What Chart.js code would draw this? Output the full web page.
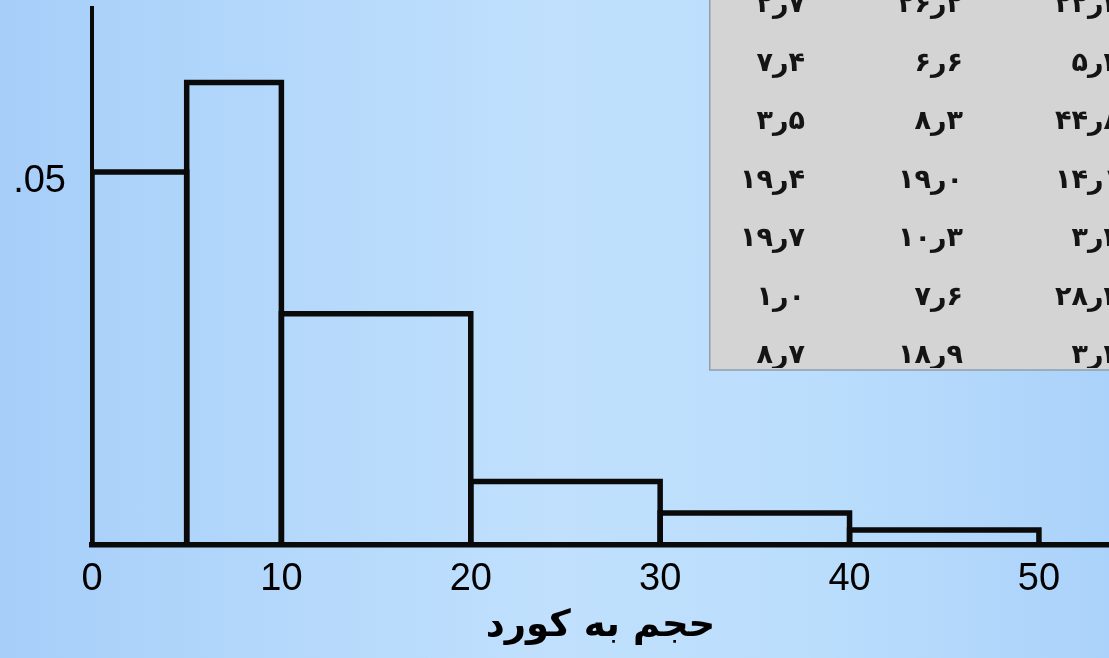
<!DOCTYPE html>
<html>
<head>
<meta charset="utf-8">
<script src="https://cdn.jsdelivr.net/npm/chart.js@4.4.1/dist/chart.umd.min.js"></script>
<style>
  html, body { margin: 0; padding: 0; }
  body {
    width: 1109px; height: 658px; overflow: hidden;
    background: linear-gradient(to right, #a6cef9 0%, #b4d8fb 25%, #c0e0fd 50%, #bbdefc 72%, #abd2fa 100%);
  }
  #wrap { position: relative; width: 1109px; height: 658px; }
</style>
</head>
<body>
<div id="wrap"><canvas id="chart" width="1109" height="658"></canvas></div>
<script>
// Class edges (cords) and density of each class
const binEdges = [0, 5, 10, 20, 30, 40, 50];
const densities = [0.05, 0.062, 0.031, 0.0085, 0.0043, 0.002];
const xTickValues = [0, 10, 20, 30, 40, 50];
const yTickValues = [0.05];
const yTickLabels = ['.05'];
const xTitle = 'حجم به کورد';

// Inset table (Persian numerals, "ر" as decimal mark)
const tableCol1 = ['۲ر۷', '۷ر۴', '۳ر۵', '۱۹ر۴', '۱۹ر۷', '۱ر۰', '۸ر۷'];
const tableCol2 = ['۲۶ر۲', '۶ر۶', '۸ر۳', '۱۹ر۰', '۱۰ر۳', '۷ر۶', '۱۸ر۹'];
const tableCol3 = ['۲۲ر۲', '۵ر۲', '۴۴ر۸', '۱۴ر۱', '۳ر۲', '۲۸ر۲', '۳ر۲'];

// One closed outline per class: left edge up, across the top, right edge down
const datasets = densities.map((d, i) => ({
  data: [
    { x: binEdges[i], y: 0 },
    { x: binEdges[i], y: d },
    { x: binEdges[i + 1], y: d },
    { x: binEdges[i + 1], y: 0 }
  ],
  showLine: true,
  borderColor: '#0a0a0a',
  borderWidth: 5.5,
  borderJoinStyle: 'miter',
  pointRadius: 0,
  tension: 0,
  fill: false
}));

const insetTable = {
  id: 'insetTable',
  afterDraw(chart) {
    const ctx = chart.ctx;
    const box = { x: 709, y: 0, w: 400, h: 370 };
    ctx.save();
    ctx.fillStyle = '#d4d4d4';
    ctx.fillRect(box.x, box.y, box.w, box.h);
    ctx.strokeStyle = '#8d9eaf';
    ctx.lineWidth = 1.5;
    ctx.beginPath();
    ctx.moveTo(box.x + 0.75, box.y);
    ctx.lineTo(box.x + 0.75, box.y + box.h);
    ctx.lineTo(box.x + box.w, box.y + box.h);
    ctx.stroke();

    ctx.beginPath();
    ctx.rect(box.x + 2, box.y, box.w, box.h - 2);
    ctx.clip();

    ctx.fillStyle = '#141414';
    ctx.font = 'bold 27px "DejaVu Sans"';
    ctx.textAlign = 'right';
    ctx.textBaseline = 'middle';
    ctx.direction = 'ltr';
    if ('letterSpacing' in ctx) ctx.letterSpacing = '4px';
    const colRight = [805, 963, 1120];
    const rowTop = 5, rowStep = 58.5;
    [tableCol1, tableCol2, tableCol3].forEach((col, c) => {
      col.forEach((s, r) => {
        ctx.fillText('\u202D' + s + '\u202C', colRight[c], rowTop + r * rowStep);
      });
    });
    ctx.restore();
  }
};

new Chart(document.getElementById('chart'), {
  type: 'scatter',
  data: { datasets },
  plugins: [insetTable],
  options: {
    responsive: false,
    animation: false,
    events: [],
    layout: { padding: { top: 8, right: 0, bottom: 0, left: 0 } },
    plugins: { legend: { display: false }, tooltip: { enabled: false } },
    scales: {
      x: {
        type: 'linear',
        min: 0,
        max: 53.7,
        grid: { display: false, drawTicks: false },
        border: { display: true, color: '#0a0a0a', width: 5.5 },
        afterBuildTicks: (s) => { s.ticks = xTickValues.map(v => ({ value: v })); },
        afterFit: (s) => { s.height = 113; s.paddingLeft = 0; s.paddingRight = 0; },
        ticks: {
          autoSkip: false,
          maxRotation: 0,
          padding: 12,
          color: '#000',
          font: { family: '"Liberation Sans", Arial, sans-serif', size: 38 },
          callback: (v) => String(v)
        },
        title: {
          display: true,
          text: xTitle,
          color: '#000',
          font: { family: '"DejaVu Sans"', size: 37, weight: 'bold' },
          padding: { top: 9, bottom: 9 }
        }
      },
      y: {
        min: 0,
        max: 0.072,
        grid: { display: false, drawTicks: false },
        border: { display: true, color: '#0a0a0a', width: 4 },
        afterBuildTicks: (s) => { s.ticks = yTickValues.map(v => ({ value: v })); },
        afterFit: (s) => { s.width = 92; s.paddingTop = 0; s.paddingBottom = 0; },
        ticks: {
          padding: 26,
          labelOffset: 9,
          color: '#000',
          font: { family: '"Liberation Sans", Arial, sans-serif', size: 38 },
          callback: (v) => yTickLabels[yTickValues.indexOf(v)] ?? ''
        }
      }
    }
  }
});
</script>
</body>
</html>
